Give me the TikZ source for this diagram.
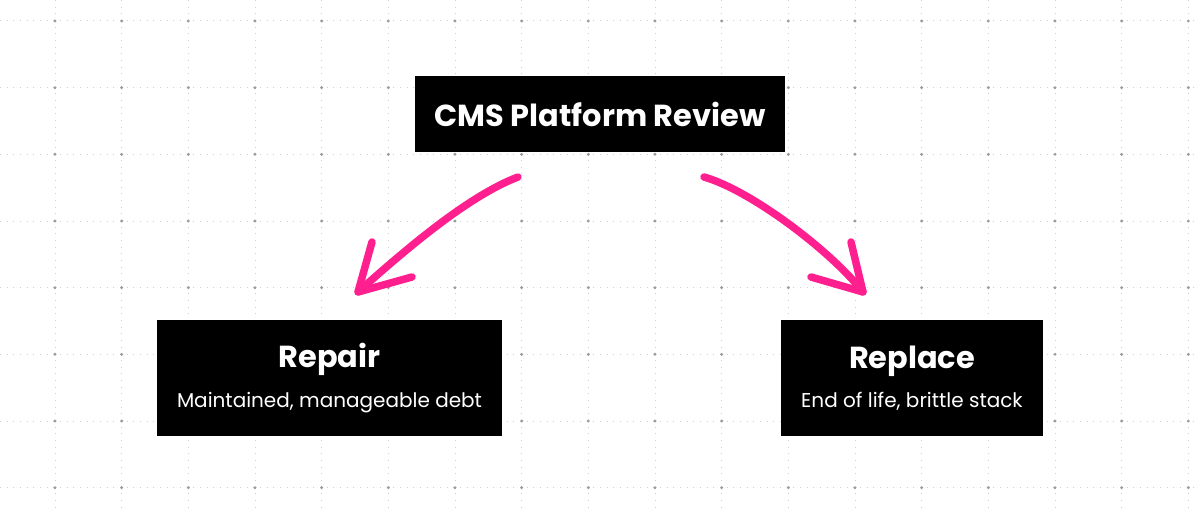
\documentclass[tikz,border=0pt]{standalone}
\usepackage{fontspec}
\setmainfont{Poppins}
\definecolor{hotpink}{HTML}{FF1F8E}
\definecolor{gridminor}{HTML}{CFCFCF}
\definecolor{gridmajor}{HTML}{9A9A9A}
\tikzset{
  box/.style={fill=black, text=white, inner sep=0pt, align=center},
  gridline/.style={gridminor, line width=1pt, dash pattern=on 1pt off 5.667pt},
  griddot/.style={fill=gridmajor},
  pinkarrow/.style={hotpink, line width=7.5pt, line cap=round, line join=round},
}
\begin{document}
\begin{tikzpicture}[x=1pt,y=-1pt]
\useasboundingbox[fill=white] (0,0) rectangle (1200,511);
% grid
\foreach \i in {0,...,17} {
  \draw[gridline] ({55+66.667*\i},0) -- ({55+66.667*\i},511);
}
\foreach \j in {0,...,7} {
  \draw[gridline] (0,{21+66.667*\j}) -- (1200,{21+66.667*\j});
}
\foreach \i in {0,...,17} {
  \foreach \j in {0,...,7} {
    \fill[griddot] ({55+66.667*\i},{21+66.667*\j}) circle (1.6pt);
  }
}
% boxes
\node[box, minimum width=370pt, minimum height=76pt, font=\fontsize{30.4}{36}\selectfont\bfseries] (top) at (600,114) {CMS Platform Review};
\node[box, minimum width=345pt, minimum height=116pt] (repair) at (329.5,378)
  {\fontsize{30.4}{36}\selectfont\bfseries Repair\\[15pt]\fontsize{20}{24}\selectfont Maintained, manageable debt};
\node[box, minimum width=262pt, minimum height=116pt] (replace) at (912,378)
  {\fontsize{30.4}{36}\selectfont\bfseries Replace\\[15pt]\fontsize{20}{24}\selectfont End of life, brittle stack};
% arrows
\coordinate (ls) at (518,177);
\coordinate (lt) at (358,292);
\coordinate (rs) at (704,177);
\coordinate (rt) at (863,292);
\draw[pinkarrow] (ls) .. controls (468,196) and (405,250) .. (lt);
\draw[pinkarrow] (372,242) -- (lt) -- (412,277);
\draw[pinkarrow] (rs) .. controls (750,190) and (830,250) .. (rt);
\draw[pinkarrow] (851,242) -- (rt) -- (811,277);
\end{tikzpicture}
\end{document}
